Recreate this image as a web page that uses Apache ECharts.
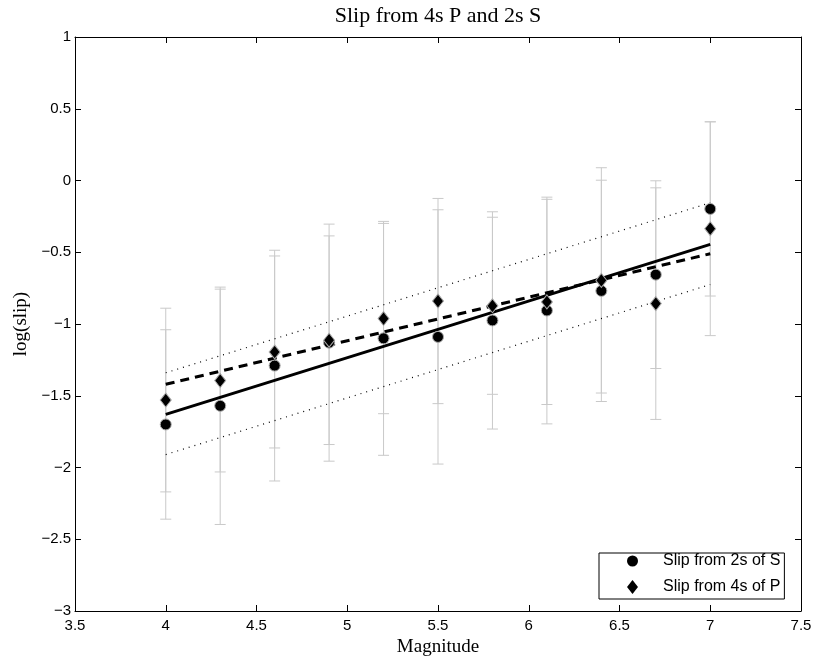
<!DOCTYPE html>
<html>
<head>
<meta charset="utf-8">
<script src="https://cdn.jsdelivr.net/npm/echarts@6/dist/echarts.min.js"></script>
<style>
  html, body { margin: 0; padding: 0; background: #fff; }
  #chart { width: 813px; height: 659px; }
</style>
</head>
<body>
<div id="chart"></div>
<script>
// magnitudes
const mags = [4, 4.3, 4.6, 4.9, 5.2, 5.5, 5.8, 6.1, 6.4, 6.7, 7];

// slip from 2s of S (circles) and its +/- spread
const slipS = [-1.70, -1.57, -1.29, -1.13, -1.10, -1.09, -0.975, -0.906, -0.769, -0.656, -0.198];
const errS  = [0.66, 0.827, 0.804, 0.826, 0.815, 0.886, 0.757, 0.79, 0.771, 0.654, 0.607];

// slip from 4s of P (diamonds) and its +/- spread
const slipP = [-1.53, -1.394, -1.195, -1.113, -0.962, -0.84, -0.873, -0.846, -0.696, -0.858, -0.336];
const errP  = [0.64, 0.637, 0.669, 0.727, 0.663, 0.715, 0.617, 0.715, 0.785, 0.807, 0.745];

// fitted lines (end points at M=4 and M=7)
const fitEnds  = [4, 7];
const fitS     = [-1.63, -0.445];
const fitP     = [-1.42, -0.51];
const fitUpper = [-1.34, -0.155];
const fitLower = [-1.91, -0.725];

const xTicks = { min: 3.5, max: 7.5, step: 0.5 };
const yTicks = { min: -3, max: 1, step: 0.5 };

const SANS = 'Liberation Sans, Arial, Helvetica, sans-serif';
const SERIF = 'Liberation Serif, Times New Roman, serif';

const fmt = v => String(v).replace('-', '\u2212');
const pairs = (xs, ys) => xs.map((x, i) => [x, ys[i]]);
const bars = (ys, es) => mags.map((m, i) => [m, ys[i] - es[i], ys[i] + es[i]]);

// vertical error bar with caps
function errBar(params, api){
  const lo = api.coord([api.value(0), api.value(1)]);
  const hi = api.coord([api.value(0), api.value(2)]);
  const w = 5.5;
  const style = { stroke: '#c9c9c9', lineWidth: 1 };
  return {
    type: 'group',
    children: [
      { type: 'line', shape: { x1: lo[0], y1: lo[1], x2: hi[0], y2: hi[1] }, style },
      { type: 'line', shape: { x1: lo[0] - w, y1: lo[1], x2: lo[0] + w, y2: lo[1] }, style },
      { type: 'line', shape: { x1: hi[0] - w, y1: hi[1], x2: hi[0] + w, y2: hi[1] }, style }
    ]
  };
}

const axisBase = (t, pos, labels) => ({
  type: 'value',
  position: pos,
  min: t.min, max: t.max, interval: t.step,
  axisLine: { show: true, onZero: false, lineStyle: { color: '#000', width: 1 } },
  axisTick: { show: true, inside: true, length: 6, lineStyle: { color: '#000' } },
  axisLabel: { show: labels, color: '#000', fontFamily: SANS, fontSize: 15, formatter: fmt },
  splitLine: { show: false }
});

const chart = echarts.init(document.getElementById('chart'), null, { renderer: 'canvas' });

const xMain = Object.assign(axisBase(xTicks, 'bottom', true), {
  name: 'Magnitude', nameLocation: 'middle', nameGap: 25,
  nameTextStyle: { fontFamily: SERIF, fontSize: 19, color: '#000' }
});
xMain.axisLabel.margin = 7;
const yMain = Object.assign(axisBase(yTicks, 'left', true), {
  name: 'log(slip)', nameLocation: 'middle', nameGap: 43,
  nameTextStyle: { fontFamily: SERIF, fontSize: 19, color: '#000' }
});
yMain.axisLabel.margin = 4;

chart.setOption({
  animation: false,
  backgroundColor: '#fff',
  title: {
    text: 'Slip from 4s P and 2s S',
    left: 438, top: 5, textAlign: 'center', padding: 0,
    textStyle: { fontFamily: SERIF, fontSize: 22, fontWeight: 'normal', color: '#000' }
  },
  grid: { left: 75, top: 37, right: 12, bottom: 48, outerBoundsMode: 'none' },
  xAxis: [xMain, axisBase(xTicks, 'top', false)],
  yAxis: [yMain, axisBase(yTicks, 'right', false)],
  legend: {
    orient: 'vertical',
    left: 599, top: 553,
    padding: [0, 4, 4, 28],
    itemGap: 10,
    itemWidth: 11, itemHeight: 14,
    itemStyle: { borderWidth: 0 },
    borderColor: '#000', borderWidth: 1,
    backgroundColor: '#fff',
    textStyle: { fontFamily: SANS, fontSize: 16, color: '#000', padding: [0, 0, 0, 20] },
    data: ['Slip from 2s of S', 'Slip from 4s of P']
  },
  series: [
    { type: 'custom', name: 'errS', renderItem: errBar, data: bars(slipS, errS), z: 1, silent: true },
    { type: 'custom', name: 'errP', renderItem: errBar, data: bars(slipP, errP), z: 1, silent: true },
    { type: 'line', name: 'upper', data: pairs(fitEnds, fitUpper), showSymbol: false, z: 2,
      lineStyle: { color: '#000', width: 1.2, type: [1, 5] } },
    { type: 'line', name: 'lower', data: pairs(fitEnds, fitLower), showSymbol: false, z: 2,
      lineStyle: { color: '#000', width: 1.2, type: [1, 5] } },
    { type: 'line', name: 'fitS', data: pairs(fitEnds, fitS), showSymbol: false, z: 2,
      lineStyle: { color: '#000', width: 3 } },
    { type: 'line', name: 'fitP', data: pairs(fitEnds, fitP), showSymbol: false, z: 2,
      lineStyle: { color: '#000', width: 3, type: [9, 6] } },
    { type: 'scatter', name: 'Slip from 2s of S', data: pairs(mags, slipS), z: 3,
      symbol: 'circle', symbolSize: 11,
      itemStyle: { color: '#000', borderColor: '#aaa', borderWidth: 1, opacity: 1 } },
    { type: 'scatter', name: 'Slip from 4s of P', data: pairs(mags, slipP), z: 3,
      symbol: 'diamond', symbolSize: [11, 14],
      itemStyle: { color: '#000', borderColor: '#aaa', borderWidth: 1, opacity: 1 } }
  ]
});
</script>
</body>
</html>
